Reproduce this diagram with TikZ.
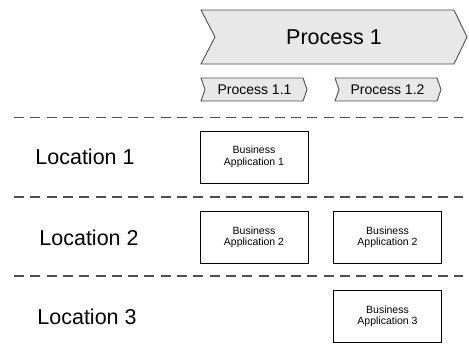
\documentclass[tikz,border=0pt]{standalone}
\usepackage{fontspec}
\setmainfont{Liberation Sans}
\definecolor{chevfill}{HTML}{E8E8E8}
\definecolor{chevline}{HTML}{505050}
\definecolor{dashcol}{HTML}{505050}
\begin{document}
\begin{tikzpicture}[x=1pt,y=-1pt,
  chev/.style={fill=chevfill,draw=chevline,line width=0.9pt,line join=miter},
  sep/.style={draw=dashcol,line width=1.4pt,dash pattern=on 10pt off 6.3pt},
  appbox/.style={draw=black,line width=0.9pt,minimum width=108pt,minimum height=52pt,inner sep=0pt,
    align=center,font=\fontsize{10.5}{11.5}\selectfont},
  loclabel/.style={font=\fontsize{21.5}{24}\selectfont,inner sep=0pt},
  bigproc/.style={font=\fontsize{21.5}{24}\selectfont,inner sep=0pt},
  smallproc/.style={font=\fontsize{14}{16}\selectfont,inner sep=0pt}]
\useasboundingbox (0,0) rectangle (469,356);
% chevrons
\draw[chev] (201,10) -- (454,10) -- (467,37) -- (454,64) -- (201,64) -- (215,37) -- cycle;
\node[bigproc] (p1) at (334,37) {Process 1};
\draw[chev] (201,78) -- (303,78) -- (307,89.5) -- (303,101) -- (201,101) -- (205,89.5) -- cycle;
\node[smallproc] (p11) at (254.5,89.5) {Process 1.1};
\draw[chev] (335,78) -- (437,78) -- (441,89.5) -- (437,101) -- (335,101) -- (339,89.5) -- cycle;
\node[smallproc] (p12) at (387.5,89.5) {Process 1.2};
% separators
\coordinate (s1a) at (14,117.5); \coordinate (s1b) at (463,117.5);
\coordinate (s2a) at (14,197);   \coordinate (s2b) at (463,197);
\coordinate (s3a) at (14,276);   \coordinate (s3b) at (463,276);
\draw[sep] (s1a) -- (s1b);
\draw[sep] (s2a) -- (s2b);
\draw[sep] (s3a) -- (s3b);
% locations
\node[loclabel] (l1) at (85,157) {Location 1};
\node[loclabel] (l2) at (89,238) {Location 2};
\node[loclabel] (l3) at (87,317) {Location 3};
% applications
\node[appbox] (ba1) at (254,157) {Business\\Application 1};
\node[appbox] (ba2a) at (254,237.5) {Business\\Application 2};
\node[appbox] (ba2b) at (387.5,237.5) {Business\\Application 2};
\node[appbox] (ba3) at (387.5,316.5) {Business\\Application 3};
\end{tikzpicture}
\end{document}
